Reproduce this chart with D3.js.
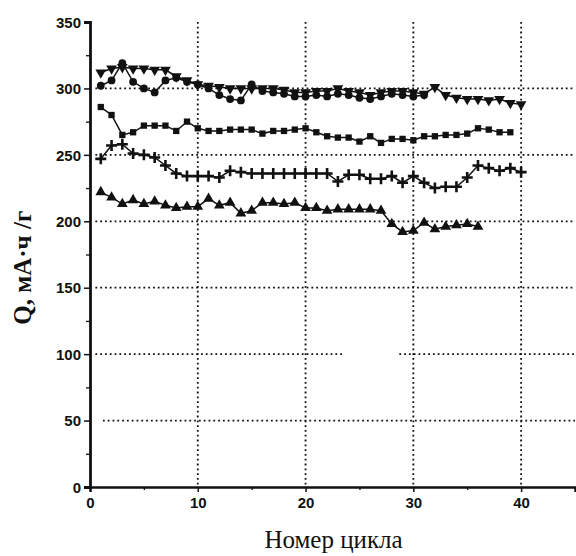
<!DOCTYPE html>
<html>
<head>
<meta charset="utf-8">
<script src="https://cdn.jsdelivr.net/npm/d3@7"></script>
<style>
  html, body { margin: 0; padding: 0; background: #fff; }
  svg { display: block; }
  .tick-label { font-family: 'Liberation Sans Narrow', 'Liberation Sans', Arial, sans-serif; font-weight: bold; font-size: 15px; fill: #111; }
</style>
</head>
<body>
<div id="chart"></div>
<script>
// cycle numbers
const cycles = d3.range(1, 41);

// series values, mAh/g
const triDown = [312, 315, 316, 315, 315, 314, 314, 309, 306, 303,
                 302, 301, 300, 300, 300, 300, 300, 299, 297, 297,
                 298, 298, 300, 298, 297, 295, 297, 298, 298, 297,
                 296, 301, 295, 293, 292, 292, 291, 292, 289, 288];
const circles = [302, 306, 319, 305, 300, 297, 306, 308, 305, 303,
                 300, 295, 292, 291, 303, 298, 297, 296, 294, 294,
                 295, 294, 296, 295, 293, 292, 294, 296, 295, 294,
                 295];
const squares = [286, 280, 265, 267, 272, 272, 272, 268, 275, 270,
                 268, 268, 269, 269, 269, 266, 268, 268, 269, 270,
                 267, 264, 263, 263, 260, 264, 259, 262, 262, 261,
                 264, 264, 265, 265, 266, 270, 269, 267, 267];
const plus = [247, 257, 258, 251, 250, 248, 242, 236, 234, 234,
              234, 233, 238, 237, 236, 236, 236, 236, 236, 236,
              236, 236, 230, 235, 235, 232, 232, 234, 229, 234,
              229, 225, 226, 226, 233, 242, 240, 238, 240, 237];
const triUp = [222, 218, 213, 216, 213, 215, 212, 210, 211, 211,
               217, 212, 214, 206, 208, 214, 214, 213, 214, 210,
               210, 208, 209, 209, 209, 209, 208, 198, 192, 193,
               199, 194, 196, 197, 198, 196];

// axis ticks
const yTicks = [0, 50, 100, 150, 200, 250, 300, 350];
const yMinor = [25, 75, 125, 175, 225, 275, 325];
const xTicks = [0, 10, 20, 30, 40];
const xMinor = [5, 15, 25, 35, 45];
const hGrid = [50, 100, 150, 200, 250, 300];
const vGrid = [10, 20, 30, 40];
// gap in the printed 100 grid line
const gap100 = [23.6, 28.7];

const xLabel = 'Номер цикла';
const yLabel = 'Q, мА·ч /г';

const width = 576, height = 556;

const svg = d3.select('#chart').append('svg')
  .attr('width', width)
  .attr('height', height);

const x = d3.scaleLinear().domain([0, 45]).range([90, 575]);
const y = d3.scaleLinear().domain([0, 350]).range([487, 22]);

// dotted grid
const grid = svg.append('g')
  .attr('stroke', '#111')
  .attr('stroke-width', 1.8)
  .attr('stroke-dasharray', '1.8,3')
  .attr('fill', 'none');

hGrid.forEach(v => {
  const x0 = v === 50 ? x(1.2) : x(0.5);
  if (v === 100) {
    grid.append('line').attr('x1', x0).attr('x2', x(gap100[0])).attr('y1', y(v)).attr('y2', y(v));
    grid.append('line').attr('x1', x(gap100[1])).attr('x2', x(45)).attr('y1', y(v)).attr('y2', y(v));
  } else {
    grid.append('line').attr('x1', x0).attr('x2', x(45)).attr('y1', y(v)).attr('y2', y(v));
  }
});
vGrid.forEach(v => {
  grid.append('line').attr('x1', x(v)).attr('x2', x(v)).attr('y1', y(350)).attr('y2', y(0));
});

// axes
const yAxis = d3.axisLeft(y).tickValues(yTicks).tickSize(6).tickFormat(d3.format('d'));
const yAxisMinor = d3.axisLeft(y).tickValues(yMinor).tickSize(4).tickFormat('');
const xAxis = d3.axisBottom(x).tickValues(xTicks).tickSize(5).tickFormat(d3.format('d'));
const xAxisMinor = d3.axisBottom(x).tickValues(xMinor).tickSize(3).tickFormat('');

function styleAxis(g, w) {
  g.select('.domain').attr('stroke', '#111').attr('stroke-width', w);
  g.selectAll('.tick line').attr('stroke', '#111').attr('stroke-width', 1.5);
  g.selectAll('.tick text').attr('class', 'tick-label');
}

svg.append('g').attr('transform', `translate(${x(0)},0)`).call(yAxisMinor)
  .call(g => { g.select('.domain').remove(); g.selectAll('.tick line').attr('stroke', '#111').attr('stroke-width', 1.3); });
svg.append('g').attr('transform', `translate(0,${y(0)})`).call(xAxisMinor)
  .call(g => { g.select('.domain').remove(); g.selectAll('.tick line').attr('stroke', '#111').attr('stroke-width', 1.3); });

svg.append('g').attr('transform', `translate(${x(0)},0)`).call(yAxis)
  .call(g => styleAxis(g, 2.8))
  .call(g => g.selectAll('.tick text').attr('x', -9).attr('dy', '0.35em'));
svg.append('g').attr('transform', `translate(0,${y(0)})`).call(xAxis)
  .call(g => styleAxis(g, 2.4))
  .call(g => g.selectAll('.tick text').attr('y', 10).attr('dy', '0.71em'));

// series
const line = d3.line()
  .x(d => x(d[0]))
  .y(d => y(d[1]));

const series = [
  { name: 'triDown', values: triDown, symbol: 'triDown' },
  { name: 'circles', values: circles, symbol: 'circle' },
  { name: 'squares', values: squares, symbol: 'square' },
  { name: 'plus', values: plus, symbol: 'plus' },
  { name: 'triUp', values: triUp, symbol: 'triUp' }
];

const symbolPath = {
  triDown: d3.symbol().type(d3.symbolTriangle).size(50)(),
  triUp: d3.symbol().type(d3.symbolTriangle).size(50)(),
  circle: d3.symbol().type(d3.symbolCircle).size(48)(),
  square: d3.symbol().type(d3.symbolSquare).size(40)()
};

const plot = svg.append('g');

series.forEach(s => {
  const pts = s.values.map((v, i) => [cycles[i], v]);
  plot.append('path')
    .datum(pts)
    .attr('d', line)
    .attr('fill', 'none')
    .attr('stroke', '#111')
    .attr('stroke-width', 1.5);

  const marks = plot.append('g').selectAll('g')
    .data(pts)
    .join('g')
      .attr('transform', d => `translate(${x(d[0])},${y(d[1])})`);

  if (s.symbol === 'plus') {
    marks.append('path')
      .attr('d', 'M-5.5,0H5.5M0,-5.5V5.5')
      .attr('stroke', '#111')
      .attr('stroke-width', 2.6)
      .attr('fill', 'none');
  } else {
    marks.append('path')
      .attr('d', symbolPath[s.symbol])
      .attr('transform', s.symbol === 'triDown' ? 'rotate(180)' : null)
      .attr('fill', '#111');
  }
});

// axis titles
svg.append('text')
  .attr('x', x(22.6))
  .attr('y', 548)
  .attr('text-anchor', 'middle')
  .attr('font-family', "'Liberation Serif', 'Times New Roman', serif")
  .attr('font-size', 25)
  .attr('fill', '#111')
  .text(xLabel);

svg.append('text')
  .attr('transform', `translate(31,${y(165)}) rotate(-90)`)
  .attr('text-anchor', 'middle')
  .attr('font-family', "'Liberation Serif', 'Times New Roman', serif")
  .attr('font-weight', 'bold')
  .attr('font-size', 25)
  .attr('fill', '#111')
  .text(yLabel);
</script>
</body>
</html>
